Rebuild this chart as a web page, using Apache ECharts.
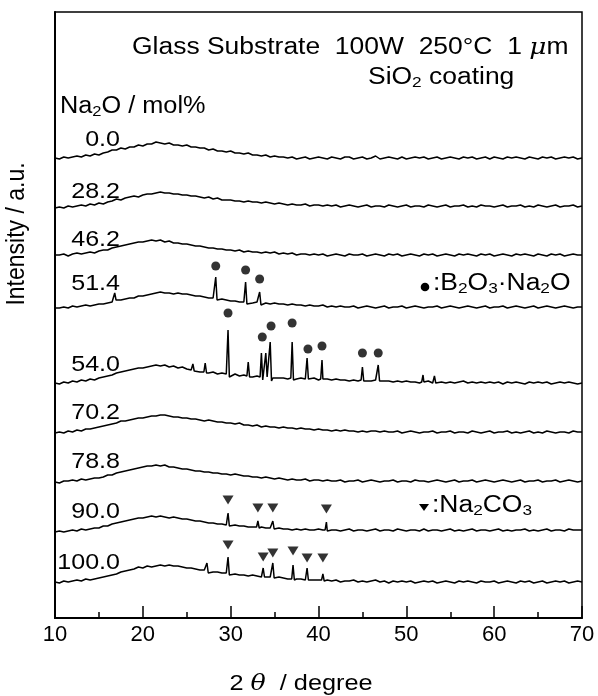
<!DOCTYPE html>
<html>
<head>
<meta charset="utf-8">
<script src="https://cdn.jsdelivr.net/npm/echarts@6/dist/echarts.min.js"></script>
<style>
html, body { margin: 0; padding: 0; background: #fff; }
#chart { width: 598px; height: 696px; }
</style>
</head>
<body>
<div id="chart"></div>
<script>
// XRD scans of SiO2-coated glass, stacked by Na2O content.
// Each scan is sampled every 0.5 deg from 10 to 70 deg; values are intensity (a.u.)
// above the scan's own zero level. Sharp reflections are listed separately.
const scanStart = 10;
const scanStep = 0.5;

const sampleLabels = ['0.0', '28.2', '46.2', '51.4', '54.0', '70.2', '78.8', '90.0', '100.0'];
const traceOffsets = [460, 410, 363, 310, 235, 185, 136, 86, 36];

const scan_0_0 = [
  0,-1,1,0,1,2,1,3,2,4,
  3,5,6,8,8,10,9,11,11,13,
  12,14,14,16,15,14,15,13,13,12,
  13,11,11,10,10,8,9,7,7,6,
  7,5,5,4,5,3,3,2,3,1,
  2,1,1,0,1,-1,0,1,-1,0,
  1,0,-1,1,0,-1,1,1,-1,0,
  1,-1,0,2,-1,0,1,0,-1,1,
  -1,0,1,0,1,-1,0,1,-1,0,
  1,0,-1,1,0,1,-1,0,1,-1,
  1,0,-1,1,0,1,0,-1,1,0,
  -1,1,0,1,-1,0,1,0,1,-1,
  0
];
const scan_28_2 = [
  0,1,0,2,1,2,3,2,4,3,
  5,4,6,7,9,8,10,11,12,11,
  13,14,14,15,16,15,15,14,14,13,
  13,12,12,11,10,11,9,10,8,8,
  8,7,7,6,7,6,6,5,6,5,
  4,5,4,3,4,3,3,4,2,3,
  3,2,3,2,3,1,2,3,2,1,
  2,3,1,2,2,1,3,2,1,2,
  3,1,2,2,1,3,2,1,2,3,
  1,2,2,3,1,2,1,3,2,2,
  1,2,3,1,2,2,3,1,2,1,
  3,2,1,2,3,1,2,2,3,1,
  2
];
const scan_46_2 = [
  0,0,1,-1,1,2,1,2,3,2,
  4,5,5,7,8,9,10,11,12,13,
  13,14,15,14,15,13,14,12,12,11,
  11,10,9,9,8,7,7,6,6,5,
  5,4,5,3,4,3,3,2,3,2,
  3,1,2,1,2,0,1,1,0,1,
  0,1,-1,0,1,0,-1,1,0,0,
  1,-1,0,1,0,-1,1,0,1,-1,
  0,1,0,-1,1,0,1,-1,0,1,
  0,-1,1,0,1,0,-1,1,0,1,
  -1,0,1,0,-1,1,0,1,0,-1,
  1,0,-1,1,0,1,-1,0,1,0,
  0
];
const scan_51_4 = [
  0,0,1,0,2,1,2,3,2,3,
  4,4,5,6,7,8,9,10,10,12,
  12,13,14,15,16,15,15,14,15,14,
  14,13,12,12,11,10,10,9,9,8,
  7,7,6,6,6,5,6,5,5,4,
  5,4,4,3,4,3,3,2,3,2,
  2,3,1,2,1,2,1,1,2,0,
  1,2,1,0,1,2,0,1,1,2,
  0,1,2,1,0,1,1,2,0,1,
  2,1,0,1,2,1,0,1,2,0,
  1,1,2,0,1,2,1,0,1,2,
  0,1,2,1,0,1,2,1,0,1,
  1
];
const scan_54_0 = [
  0,-1,1,0,2,1,3,2,4,3,
  5,6,7,8,10,11,12,13,14,15,
  15,16,17,18,17,18,16,17,15,16,
  14,13,12,11,12,10,11,9,10,9,
  8,9,7,8,7,6,7,6,6,5,
  6,5,5,4,5,4,5,4,4,5,
  3,4,4,3,4,3,3,2,3,2,
  3,2,2,3,1,2,2,1,2,1,
  2,1,1,0,1,2,0,1,1,0,
  1,0,1,2,0,1,0,1,0,1,
  0,1,-1,1,0,1,0,-1,1,0,
  1,0,1,-1,0,1,0,1,0,-1,
  0
];
const scan_70_2 = [
  0,1,0,2,1,3,2,4,4,5,
  6,7,8,9,10,12,12,13,14,15,
  15,16,17,17,18,18,17,16,16,15,
  15,14,14,13,12,13,12,11,11,10,
  10,9,10,8,8,7,8,6,7,6,
  6,5,6,5,5,4,5,4,4,3,
  4,3,3,2,3,2,3,2,2,1,
  2,1,2,2,1,2,1,1,2,0,
  1,2,1,0,1,1,2,0,1,1,
  2,0,1,1,0,2,1,0,1,2,
  0,1,1,2,0,1,0,1,2,0,
  1,0,2,1,0,1,1,0,2,1,
  1
];
const scan_78_8 = [
  0,-1,1,1,2,1,3,2,3,4,
  4,5,7,7,9,10,11,12,13,14,
  15,16,16,17,16,17,15,15,14,13,
  13,12,11,11,10,10,9,9,8,8,
  7,8,7,6,6,5,5,4,5,4,
  3,4,3,2,3,2,2,3,1,2,
  2,1,2,1,1,2,0,1,1,2,
  0,1,2,1,0,1,1,2,0,1,
  1,0,2,1,1,0,1,2,1,0,
  1,2,0,1,1,2,0,1,2,1,
  0,1,2,1,0,1,2,0,1,1,
  2,0,1,1,2,0,1,2,1,0,
  1
];
const scan_90_0 = [
  0,1,0,1,2,1,3,2,3,4,
  4,6,6,8,9,10,11,12,13,14,
  14,15,16,15,16,15,14,15,14,13,
  13,12,11,11,10,9,9,8,8,7,
  7,7,6,6,5,5,4,5,4,4,
  3,4,3,3,2,3,2,3,2,2,
  3,2,1,2,2,1,2,3,1,2,
  2,1,2,3,1,2,2,1,3,2,
  1,2,2,1,3,1,2,2,1,2,
  3,1,2,1,2,3,1,2,2,1,
  2,3,1,2,1,2,2,3,1,2,
  1,2,3,1,2,2,1,3,2,2,
  2
];
const scan_100_0 = [
  0,-1,1,0,1,2,1,3,2,3,
  4,5,6,7,8,10,11,12,13,15,
  14,16,15,16,17,16,17,16,16,15,
  14,14,13,12,12,11,10,10,9,9,
  8,8,7,7,6,7,6,5,6,5,
  4,5,4,3,4,3,3,2,3,2,
  2,1,2,1,2,0,1,1,2,0,
  1,0,1,2,0,1,-1,1,0,1,
  0,1,-1,0,1,0,1,-1,0,1,
  0,-1,1,0,1,0,-1,1,0,0,
  1,-1,0,1,0,-1,1,0,1,-1,
  0,1,-1,0,1,0,1,-1,0,1,
  0
];

// Sharp reflections: [2theta, intensity] points (flank, apex, flank)
const peaks_51_4 = [
  [16.65, 7], [16.8, 15], [16.95, 8],
  [28.15, 9], [28.3, 31], [28.45, 8],
  [31.55, 5], [31.7, 26], [31.85, 4],
  [33.15, 4], [33.3, 16], [33.45, 3]
];
const peaks_54_0 = [
  [25.55, 13], [25.7, 19], [25.85, 12],
  [26.95, 11], [27.1, 20], [27.25, 10],
  [29.55, 9], [29.7, 53], [29.85, 6],
  [31.85, 7], [32.0, 21], [32.15, 6],
  [33.35, 6], [33.5, 30], [33.65, 3], [33.75, 1], [33.85, 4], [34.0, 30],
  [34.15, 6], [34.3, 7], [34.5, 41], [34.65, 2], [34.8, 5],
  [36.85, 5], [37.0, 41], [37.15, 3],
  [38.55, 5], [38.7, 25], [38.85, 4],
  [40.25, 4], [40.4, 23], [40.55, 3],
  [44.85, 3], [45.0, 16], [45.15, 2],
  [46.65, 2], [46.8, 18], [46.95, 2],
  [51.75, 1], [51.9, 8], [52.05, 1],
  [53.05, 1], [53.2, 7], [53.35, 0]
];
const peaks_90_0 = [
  [29.55, 7], [29.7, 19], [29.85, 6],
  [32.95, 5], [33.1, 11], [33.25, 4],
  [34.65, 4], [34.8, 11], [34.95, 3],
  [40.75, 2], [40.9, 10], [41.05, 1]
];
const peaks_100_0 = [
  [27.15, 10], [27.3, 19], [27.45, 9],
  [29.55, 8], [29.7, 25], [29.85, 7],
  [33.55, 6], [33.7, 14], [33.85, 5],
  [34.65, 5], [34.8, 19], [34.95, 4],
  [36.95, 3], [37.1, 17], [37.25, 2],
  [38.55, 3], [38.7, 14], [38.85, 2],
  [40.35, 2], [40.5, 8], [40.65, 1]
];

// Phase markers above the reflections: [2theta, height above the scan's zero]
const borate_51_4 = [[28.3, 42], [31.7, 38], [33.3, 29]];
const borate_54_0 = [[29.7, 70], [33.6, 46], [34.6, 57], [37.0, 60], [38.8, 34], [40.4, 37], [45.0, 30], [46.8, 30]];
const carbonate_90_0 = [[29.7, 32], [33.1, 24], [34.8, 24], [40.9, 23]];
const carbonate_100_0 = [[29.7, 37], [33.7, 25], [34.8, 29], [37.1, 31], [38.7, 24], [40.5, 24]];

const xTicks = [10, 20, 30, 40, 50, 60, 70];

const scans = [scan_0_0, scan_28_2, scan_46_2, scan_51_4, scan_54_0, scan_70_2, scan_78_8, scan_90_0, scan_100_0];
const peakSets = [[], [], [], peaks_51_4, peaks_54_0, [], [], peaks_90_0, peaks_100_0];

const FONT = "'Liberation Sans', Arial, Helvetica, sans-serif";
const STRETCH = 1.15;
const labelRise = [18, 16, 15, 24, 18, 20, 20, 20, 19];
const labelTheta = 17.4;

function buildTrace(values, peaks, offset) {
  const pts = new Map();
  values.forEach((v, i) => pts.set((scanStart + i * scanStep).toFixed(2), v));
  peaks.forEach(([x, v]) => pts.set(x.toFixed(2), v));
  return Array.from(pts.entries())
    .map(([x, v]) => [parseFloat(x), v + offset])
    .sort((a, b) => a[0] - b[0]);
}

function lift(points, offset) {
  return points.map(([x, v]) => [x, v + offset]);
}

const series = scans.map((vals, k) => ({
  type: 'line',
  name: sampleLabels[k],
  data: buildTrace(vals, peakSets[k], traceOffsets[k]),
  showSymbol: false,
  symbol: 'none',
  silent: true,
  lineStyle: { color: '#000', width: 1.5 },
  z: 3
}));

series.push({
  type: 'scatter',
  name: 'B2O3·Na2O',
  data: lift(borate_51_4, traceOffsets[3]).concat(lift(borate_54_0, traceOffsets[4])),
  symbol: 'circle',
  symbolSize: 9,
  itemStyle: { color: '#000' },
  silent: true,
  z: 4
});
series.push({
  type: 'scatter',
  name: 'Na2CO3',
  data: lift(carbonate_90_0, traceOffsets[7]).concat(lift(carbonate_100_0, traceOffsets[8])),
  symbol: 'triangle',
  symbolRotate: 180,
  symbolSize: [11, 9],
  itemStyle: { color: '#000' },
  silent: true,
  z: 4
});

const chart = echarts.init(document.getElementById('chart'));
chart.setOption({
  animation: false,
  backgroundColor: '#fff',
  grid: {
    left: 55, right: 16, top: 12, bottom: 78,
    show: true, borderColor: '#000', borderWidth: 1.5, backgroundColor: 'transparent'
  },
  xAxis: {
    type: 'value',
    min: xTicks[0],
    max: xTicks[xTicks.length - 1],
    interval: 10,
    axisLine: { show: true, lineStyle: { color: '#000', width: 2 } },
    axisTick: { show: true, inside: true, length: 12, lineStyle: { color: '#000', width: 1.5 } },
    minorTick: { show: true, splitNumber: 2, length: 6, lineStyle: { color: '#000', width: 1.5 } },
    splitLine: { show: false },
    minorSplitLine: { show: false },
    axisLabel: { color: '#000', fontSize: 22, fontFamily: FONT, margin: 6 }
  },
  yAxis: {
    type: 'value',
    min: 0,
    max: 606,
    axisLine: { show: true, lineStyle: { color: '#000', width: 2 } },
    axisTick: { show: false },
    axisLabel: { show: false },
    splitLine: { show: false }
  },
  series: series
});

// Text annotations
const subStyle = { fontSize: 15, fontFamily: FONT, fill: '#000', padding: [10, 0, 0, 0] };
const mainStyle = { fontSize: 23, fontFamily: FONT, fill: '#000' };

function annot(x, y, text, opts) {
  return Object.assign({
    type: 'text',
    x: x, y: y,
    scaleX: STRETCH,
    silent: true,
    z: 10,
    style: {
      text: text,
      fontSize: 23,
      fontFamily: FONT,
      fill: '#000',
      align: 'left',
      verticalAlign: 'middle',
      rich: {
        n: mainStyle,
        sub: subStyle,
        mu: { fontSize: 23, fontFamily: "'DejaVu Serif', serif", fontStyle: 'italic', fill: '#000' },
        th: { fontSize: 22, fontFamily: "'DejaVu Serif', serif", fontStyle: 'italic', fill: '#000' }
      }
    }
  }, opts || {});
}

const graphics = [
  annot(132, 48, 'Glass Substrate  100W  250°C  1 {mu|μ}m'),
  annot(368, 78, 'SiO{sub|2} coating'),
  annot(60, 107, 'Na{sub|2}O / mol%', { scaleX: 1.1 }),
  annot(433, 284, ':B{sub|2}O{sub|3}·Na{sub|2}O'),
  annot(432, 506, ':Na{sub|2}CO{sub|3}'),
  { type: 'circle', shape: { cx: 425, cy: 287, r: 4.3 }, style: { fill: '#000' }, silent: true, z: 10 },
  { type: 'polygon', shape: { points: [[419, 504], [429, 504], [424, 511]] }, style: { fill: '#000' }, silent: true, z: 10 },
  // axis titles
  {
    type: 'text', x: 17, y: 234, rotation: Math.PI / 2, scaleY: 1.1, silent: true, z: 10,
    style: { text: 'Intensity / a.u.', fontSize: 23, fontFamily: FONT, fill: '#000', align: 'center', verticalAlign: 'middle' }
  },
  {
    type: 'text', x: 301, y: 684, scaleX: STRETCH, silent: true, z: 10,
    style: {
      text: '2 {th|θ}  / degree', fontSize: 22, fontFamily: FONT, fill: '#000',
      align: 'center', verticalAlign: 'middle',
      rich: { th: { fontSize: 22, fontFamily: "'DejaVu Serif', serif", fontStyle: 'italic', fill: '#000' } }
    }
  }
];

// Sample labels sit just above the left end of each scan
sampleLabels.forEach((lab, k) => {
  const p = chart.convertToPixel({ xAxisIndex: 0, yAxisIndex: 0 }, [labelTheta, traceOffsets[k] + labelRise[k]]);
  graphics.push({
    type: 'text', x: p[0], y: p[1], scaleX: 1.14, silent: true, z: 10,
    style: { text: lab, fontSize: 22, fontFamily: FONT, fill: '#000', align: 'right', verticalAlign: 'middle' }
  });
});

chart.setOption({ graphic: graphics });
</script>
</body>
</html>
